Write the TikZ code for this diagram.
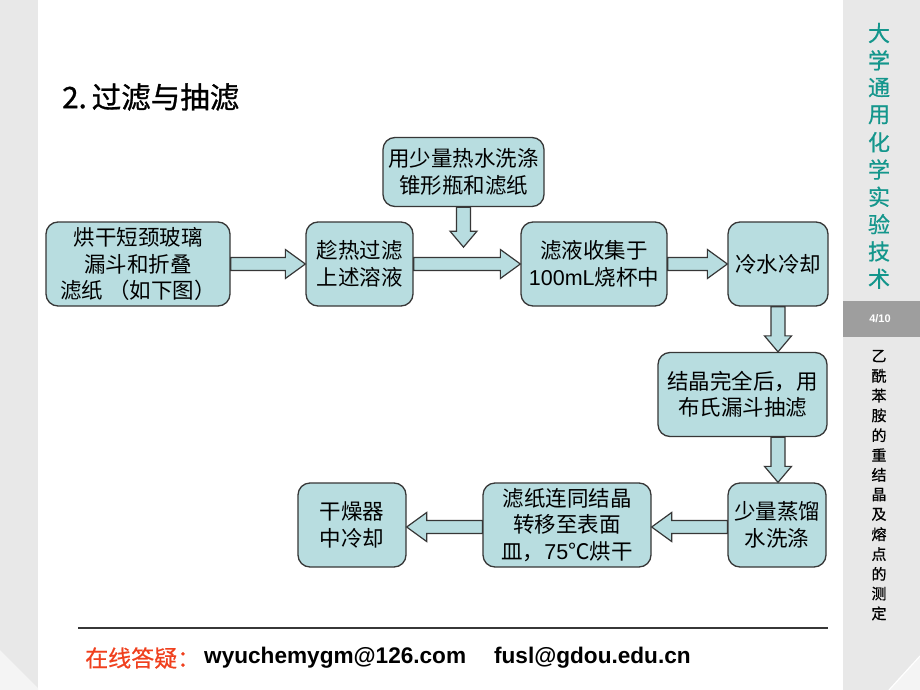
\documentclass[tikz,border=0pt]{standalone}
\usepackage{fontspec}
\setmainfont{Noto Sans CJK SC}
\newfontfamily\lat{Liberation Sans}
\newfontfamily\heavy[FakeBold=1]{Noto Sans CJK SC}
\newfontfamily\semi[FakeBold=0.6]{Noto Sans CJK SC}
\usetikzlibrary{calc}
\definecolor{boxfill}{RGB}{184,221,224}
\definecolor{boxline}{RGB}{55,55,55}
\definecolor{sidegray}{RGB}{232,232,232}
\definecolor{sidelight}{RGB}{244,244,244}
\definecolor{banddark}{RGB}{158,158,158}
\definecolor{tealtxt}{RGB}{20,150,140}
\definecolor{footred}{RGB}{240,64,30}
\tikzset{
  stepbox/.style={draw=boxline, line width=1.3pt, fill=boxfill, rounded corners=12pt,
    inner sep=0pt, align=center, font=\fontsize{21.5}{26.5}\selectfont},
  barrow/.style={draw=boxline, line width=1.2pt, fill=boxfill, line join=miter},
  sidet/.style={text=tealtxt, font=\semi\fontsize{22}{22}\selectfont, inner sep=0pt},
  sideb/.style={text=black, font=\semi\fontsize{15}{15}\selectfont, inner sep=0pt},
}
\newcommand\arrR[2]{\draw[barrow] let \p1=(#1), \p2=(#2) in
  ({\x1},{\y1+6.5pt}) -- ({\x2-20pt},{\y1+6.5pt}) -- ({\x2-20pt},{\y1+14.5pt}) --
  ({\x2},{\y1}) -- ({\x2-20pt},{\y1-14.5pt}) -- ({\x2-20pt},{\y1-6.5pt}) --
  ({\x1},{\y1-6.5pt}) -- cycle;}
\newcommand\arrL[2]{\draw[barrow] let \p1=(#1), \p2=(#2) in
  ({\x1},{\y1+6.5pt}) -- ({\x2+20pt},{\y1+6.5pt}) -- ({\x2+20pt},{\y1+14.5pt}) --
  ({\x2},{\y1}) -- ({\x2+20pt},{\y1-14.5pt}) -- ({\x2+20pt},{\y1-6.5pt}) --
  ({\x1},{\y1-6.5pt}) -- cycle;}
\newcommand\arrD[2]{\draw[barrow] let \p1=(#1), \p2=(#2) in
  ({\x1-7pt},{\y1}) -- ({\x1-7pt},{\y2+16pt}) -- ({\x1-13.5pt},{\y2+16pt}) --
  ({\x1},{\y2}) -- ({\x1+13.5pt},{\y2+16pt}) -- ({\x1+7pt},{\y2+16pt}) --
  ({\x1+7pt},{\y1}) -- cycle;}
\begin{document}
\begin{tikzpicture}[x=1pt,y=-1pt]
\useasboundingbox (0,0) rectangle (920,690);
\fill[white] (0,0) rectangle (920,690);
% left strip
\fill[sidegray] (0,0) rectangle (38,690);
\fill[sidelight] (0,650) -- (38,688) -- (38,690) -- (0,690) -- cycle;
% right sidebar
\fill[sidegray] (843,0) rectangle (920,690);
\fill[sidelight] (920,656) -- (920,690) -- (889,690) -- cycle;
\draw[white, line width=1.2pt] (920,656) -- (889,690);
\fill[banddark] (843,301) rectangle (920,337);
\node[text=white, font=\lat\bfseries\fontsize{11}{11}\selectfont, inner sep=0pt] (page) at (880,318.5) {4/10};
\foreach \c [count=\i from 0] in {大,学,通,用,化,学,实,验,技,术}
  \node[sidet] (st\i) at (879,{33+27.3*\i}) {\c};
\foreach \c [count=\i from 0] in {乙,酰,苯,胺,的,重,结,晶,及,熔,点,的,测,定}
  \node[sideb] (sb\i) at (879,{356+19.8*\i}) {\c};
% title
\node[anchor=west, inner sep=0pt, font=\heavy\fontsize{29.5}{29.5}\selectfont] (title) at (62,97) {2.\hspace{5pt}过滤与抽滤};
% boxes
\node[stepbox, minimum width=184pt, minimum height=84pt] (b1) at (138,264)
  {烘干短颈玻璃\\漏斗和折叠\\滤纸 （如下图）};
\node[stepbox, minimum width=107pt, minimum height=84pt] (b2) at (359.5,264)
  {趁热过滤\\上述溶液};
\node[stepbox, minimum width=161pt, minimum height=69pt] (b3) at (463.5,172)
  {用少量热水洗涤\\锥形瓶和滤纸};
\node[stepbox, minimum width=146pt, minimum height=84pt] (b4) at (594,264)
  {滤液收集于\\{\lat 100mL}烧杯中};
\node[stepbox, minimum width=100pt, minimum height=84pt] (b5) at (778,264)
  {冷水冷却};
\node[stepbox, minimum width=169pt, minimum height=84pt] (b6) at (742.5,394.5)
  {结晶完全后，用\\布氏漏斗抽滤};
\node[stepbox, minimum width=98pt, minimum height=84pt] (b7) at (777,525)
  {少量蒸馏\\水洗涤};
\node[stepbox, minimum width=168pt, minimum height=84pt] (b8) at (567,525)
  {滤纸连同结晶\\转移至表面\\皿，{\lat 75}℃烘干};
\node[stepbox, minimum width=108pt, minimum height=84pt] (b9) at (352,525)
  {干燥器\\中冷却};
% arrows
\coordinate (t3) at ([yshift=-40pt]b3.south);
\arrR{b1.east}{b2.west}
\arrR{b2.east}{b4.west}
\arrD{b3.south}{t3}
\arrR{b4.east}{b5.west}
\arrD{b5.south}{b5.south |- b6.north}
\arrD{b5.south |- b6.south}{b5.south |- b7.north}
\arrL{[yshift=-2pt]b7.west}{[yshift=-2pt]b8.east}
\arrL{[yshift=-2pt]b8.west}{[yshift=-2pt]b9.east}
% footer
\coordinate (fl) at (78,628);
\coordinate (fr) at (828,628);
\draw[boxline, line width=1.2pt] (fl) -- (fr);
\node[anchor=west, inner sep=0pt, text=footred, font=\semi\fontsize{23}{23}\selectfont] (ask) at (85,658) {在线答疑：};
\node[anchor=west, inner sep=0pt, font=\lat\bfseries\fontsize{22.6}{22.6}\selectfont] (mail) at (204,658)
  {wyuchemygm@126.com\hspace{28pt}fusl@gdou.edu.cn};
\end{tikzpicture}
\end{document}
